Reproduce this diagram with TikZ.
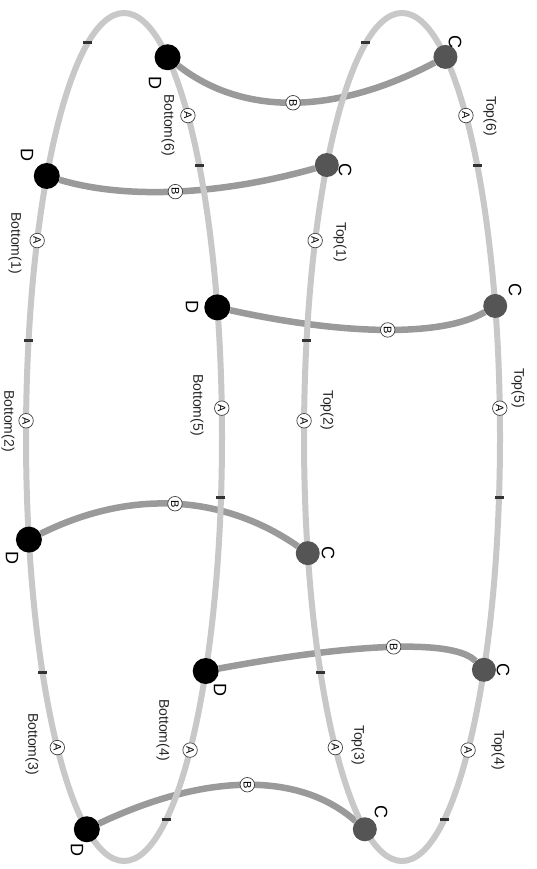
\documentclass[tikz,border=0pt]{standalone}
\usepackage{fontspec}
\setmainfont{Liberation Sans}
\pgfdeclarelayer{bg}
\pgfdeclarelayer{mid}
\pgfsetlayers{bg,mid,main}
\definecolor{ringgray}{HTML}{C8C8C8}
\definecolor{edgegray}{HTML}{9A9A9A}
\definecolor{cgray}{HTML}{555555}
\definecolor{tickgray}{HTML}{333333}
\begin{document}
\begin{tikzpicture}[x=1pt,y=-1pt,
  ring/.style={draw=ringgray,line width=6pt},
  bedge/.style={draw=edgegray,line width=6.5pt},
  dnode/.style={circle,fill=black,minimum size=26pt,inner sep=0pt},
  cnode/.style={circle,fill=cgray,minimum size=24pt,inner sep=0pt},
  amark/.style={circle,draw=black!75,fill=white,line width=0.7pt,minimum size=14.5pt,inner sep=0pt,font=\fontsize{11}{11}\selectfont,rotate=-90},
  tickbar/.style={fill=tickgray,minimum width=9pt,minimum height=2.8pt,inner sep=0pt},
  lbl/.style={font=\fontsize{14}{14}\selectfont,rotate=-90,inner sep=0pt,text=black!85},
  nlbl/.style={font=\fontsize{18}{18}\selectfont,rotate=-90,inner sep=0pt}
]
\useasboundingbox (0,0) rectangle (536,869);
\begin{pgfonlayer}{bg}
\fill[white] (0,0) rectangle (536,869);
\end{pgfonlayer}

% Bottom ring (left)
\begin{scope}[shift={(124,437)}]
\node[dnode] (d1) at (-63.6:98 and 424) {};
\node[dnode] (d2) at (-142.0:98 and 424) {};
\node[dnode] (d3) at (-17.8:98 and 424) {};
\node[dnode] (d4) at (166.0:98 and 424) {};
\node[dnode] (d5) at (33.5:98 and 424) {};
\node[dnode] (d6) at (112.3:98 and 424) {};
\node[amark] (ba1) at (-152.4:98 and 424) {A};
\node[amark] (ba2) at (-177.8:98 and 424) {A};
\node[amark] (ba3) at (132.9:98 and 424) {A};
\node[amark] (ba4) at (47.6:98 and 424) {A};
\node[amark] (ba5) at (-3.9:98 and 424) {A};
\node[amark] (ba6) at (-49.3:98 and 424) {A};
\node[tickbar] (bt1) at (-111.6:98 and 424) {};
\node[tickbar] (bt2) at (-39.8:98 and 424) {};
\node[tickbar] (bt3) at (8.2:98 and 424) {};
\node[tickbar] (bt4) at (64.5:98 and 424) {};
\node[tickbar] (bt5) at (146.2:98 and 424) {};
\node[tickbar] (bt6) at (-166.8:98 and 424) {};
\end{scope}

% Top ring (right)
\begin{scope}[shift={(402,437)}]
\node[cnode] (c1) at (-63.7:98 and 424) {};
\node[cnode] (c2) at (-140.1:98 and 424) {};
\node[cnode] (c3) at (-18.0:98 and 424) {};
\node[cnode] (c4) at (164.1:98 and 424) {};
\node[cnode] (c5) at (33.3:98 and 424) {};
\node[cnode] (c6) at (112.3:98 and 424) {};
\node[amark] (ta1) at (-152.4:98 and 424) {A};
\node[amark] (ta2) at (-177.8:98 and 424) {A};
\node[amark] (ta3) at (132.9:98 and 424) {A};
\node[amark] (ta4) at (47.6:98 and 424) {A};
\node[amark] (ta5) at (-3.9:98 and 424) {A};
\node[amark] (ta6) at (-49.3:98 and 424) {A};
\node[tickbar] (tt1) at (-111.6:98 and 424) {};
\node[tickbar] (tt2) at (-39.8:98 and 424) {};
\node[tickbar] (tt3) at (8.2:98 and 424) {};
\node[tickbar] (tt4) at (64.5:98 and 424) {};
\node[tickbar] (tt5) at (146.2:98 and 424) {};
\node[tickbar] (tt6) at (-166.8:98 and 424) {};
\end{scope}

% rings
\begin{pgfonlayer}{mid}
\draw[ring] (124,437) ellipse [x radius=98pt, y radius=424pt];
\draw[ring] (402,437) ellipse [x radius=98pt, y radius=424pt];
\end{pgfonlayer}

% B connectors
\begin{pgfonlayer}{bg}
\draw[bedge] (d1) .. controls (242.3,116) and (335,115.3) .. (c1) node[amark,pos=0.5] (bb1) {B};
\draw[bedge] (d2) .. controls (124.7,199.3) and (218,195.7) .. (c2) node[amark,pos=0.5] (bb2) {B};
\draw[bedge] (d3) .. controls (351.3,336.7) and (444.3,335.7) .. (c3) node[amark,pos=0.5] (bb3) {B};
\draw[bedge] (d4) .. controls (130.7,489) and (223,494.3) .. (c4) node[amark,pos=0.5] (bb4) {B};
\draw[bedge] (d5) .. controls (363,641.7) and (455.3,640) .. (c5) node[amark,pos=0.5] (bb5) {B};
\draw[bedge] (d6) .. controls (207.7,772) and (300.3,772.3) .. (c6) node[amark,pos=0.5] (bb6) {B};
\end{pgfonlayer}

% edge labels
\node[lbl] (lb6) at (168,125) {Bottom(6)};
\node[lbl] (lb1) at (15,243) {Bottom(1)};
\node[lbl] (lb2) at (8,421) {Bottom(2)};
\node[lbl] (lb5) at (197,405) {Bottom(5)};
\node[lbl] (lb4) at (163,730) {Bottom(4)};
\node[lbl] (lb3) at (32,744) {Bottom(3)};
\node[lbl] (lt6) at (490,116) {Top(6)};
\node[lbl] (lt1) at (340,242) {Top(1)};
\node[lbl] (lt2) at (327,410) {Top(2)};
\node[lbl] (lt5) at (518,388) {Top(5)};
\node[lbl] (lt4) at (498,750) {Top(4)};
\node[lbl] (lt3) at (358,745) {Top(3)};

% node labels
\node[nlbl] (dl1) at (155,83) {D};
\node[nlbl] (dl2) at (27,155) {D};
\node[nlbl] (dl3) at (192,307) {D};
\node[nlbl] (dl4) at (12,558) {D};
\node[nlbl] (dl5) at (220,690) {D};
\node[nlbl] (dl6) at (77,850) {D};
\node[nlbl] (cl1) at (455,42) {C};
\node[nlbl] (cl2) at (345,170) {C};
\node[nlbl] (cl3) at (515,290) {C};
\node[nlbl] (cl4) at (328,553) {C};
\node[nlbl] (cl5) at (503,670) {C};
\node[nlbl] (cl6) at (381,812) {C};
\end{tikzpicture}
\end{document}
